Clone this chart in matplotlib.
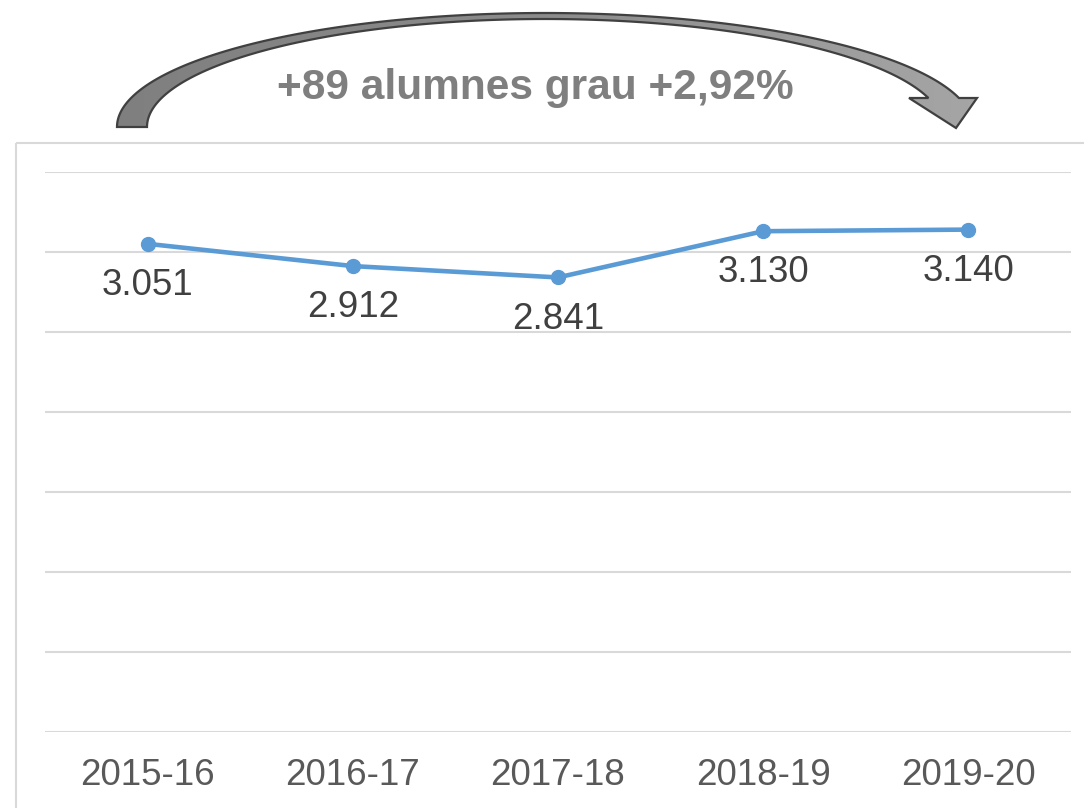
import matplotlib
matplotlib.use("Agg")
import matplotlib.pyplot as plt
import numpy as np
from matplotlib.patches import Polygon, Rectangle
from matplotlib.colors import LinearSegmentedColormap

plt.rcParams['font.family'] = ['Liberation Sans', 'DejaVu Sans']

categories = ["2015-16", "2016-17", "2017-18", "2018-19", "2019-20"]
values = [3051, 2912, 2841, 3130, 3140]
annotation_text = "+89 alumnes grau +2,92%"

W, H = 1084, 808
fig = plt.figure(figsize=(W / 100, H / 100), dpi=100)
fig.patch.set_facecolor("white")

# main axes
left, right, top, bottom = 45, 1071, 172, 732
ax = fig.add_axes([left / W, 1 - bottom / H, (right - left) / W, (bottom - top) / H])
x = np.arange(len(categories))
ax.plot(x, values, color="#5b9bd5", lw=3.3, marker="o", ms=10, zorder=3,
        solid_capstyle="round")
ax.set_xlim(-0.5, len(categories) - 0.5)
ax.set_ylim(0, 3500)
ax.set_yticks(np.arange(0, 3501, 500))
ax.yaxis.grid(True, color="#d9d9d9", lw=1.5)
ax.set_axisbelow(True)
ax.tick_params(axis="y", left=False, labelleft=False)
ax.set_xticks(x)
ax.set_xticklabels(categories, fontsize=26.5, color="#595959")
ax.tick_params(axis="x", length=0, pad=19)
for s in ax.spines.values():
    s.set_visible(False)

def fmt(v):
    return f"{v:,}".replace(",", ".")

for xi, v in zip(x, values):
    ax.annotate(fmt(v), (xi, v), xytext=(0, -30), textcoords="offset points",
                ha="center", va="center", fontsize=26.5, color="#404040")

# overlay for decoration in pixel coordinates
ov = fig.add_axes([0, 0, 1, 1], zorder=5)
ov.set_xlim(0, W)
ov.set_ylim(H, 0)
ov.axis("off")
ov.patch.set_alpha(0)

# chart frame
ov.add_patch(Rectangle((16, 143), W, H, fill=False, edgecolor="#d9d9d9", lw=1.5))

# curved arrow
cx, cy = 545, 127
rxo, ryo = 428, 114
rxi, ryi = 398, 108
t_end_o = np.arcsin((cy - 98) / ryo)
t_end_i = np.arcsin((cy - 98) / ryi)
to = np.linspace(np.pi, t_end_o, 200)
ti = np.linspace(t_end_i, np.pi, 200)
outer = np.column_stack([cx + rxo * np.cos(to), cy - ryo * np.sin(to)])
inner = np.column_stack([cx + rxi * np.cos(ti), cy - ryi * np.sin(ti)])
head = np.array([[977, 98], [956, 128], [909, 98]])
pts = np.vstack([outer, head, inner])
poly = Polygon(pts, closed=True, facecolor="none", edgecolor="#404040", lw=1.6, zorder=3)
ov.add_patch(poly)
grad = np.linspace(0, 1, 256).reshape(1, -1)
cmap = LinearSegmentedColormap.from_list("g", ["#7f7f7f", "#8c8c8c", "#a6a6a6"])
im = ov.imshow(grad, extent=[110, 985, 135, 5], cmap=cmap, aspect="auto", zorder=2)
clip = Polygon(pts, closed=True, transform=ov.transData)
im.set_clip_path(clip)
ov.set_xlim(0, W)
ov.set_ylim(H, 0)

ov.text(535, 88, annotation_text, ha="center", va="center", fontsize=30.5,
        fontweight="bold", color="#7f7f7f")

fig.savefig("out.png", dpi=100)
